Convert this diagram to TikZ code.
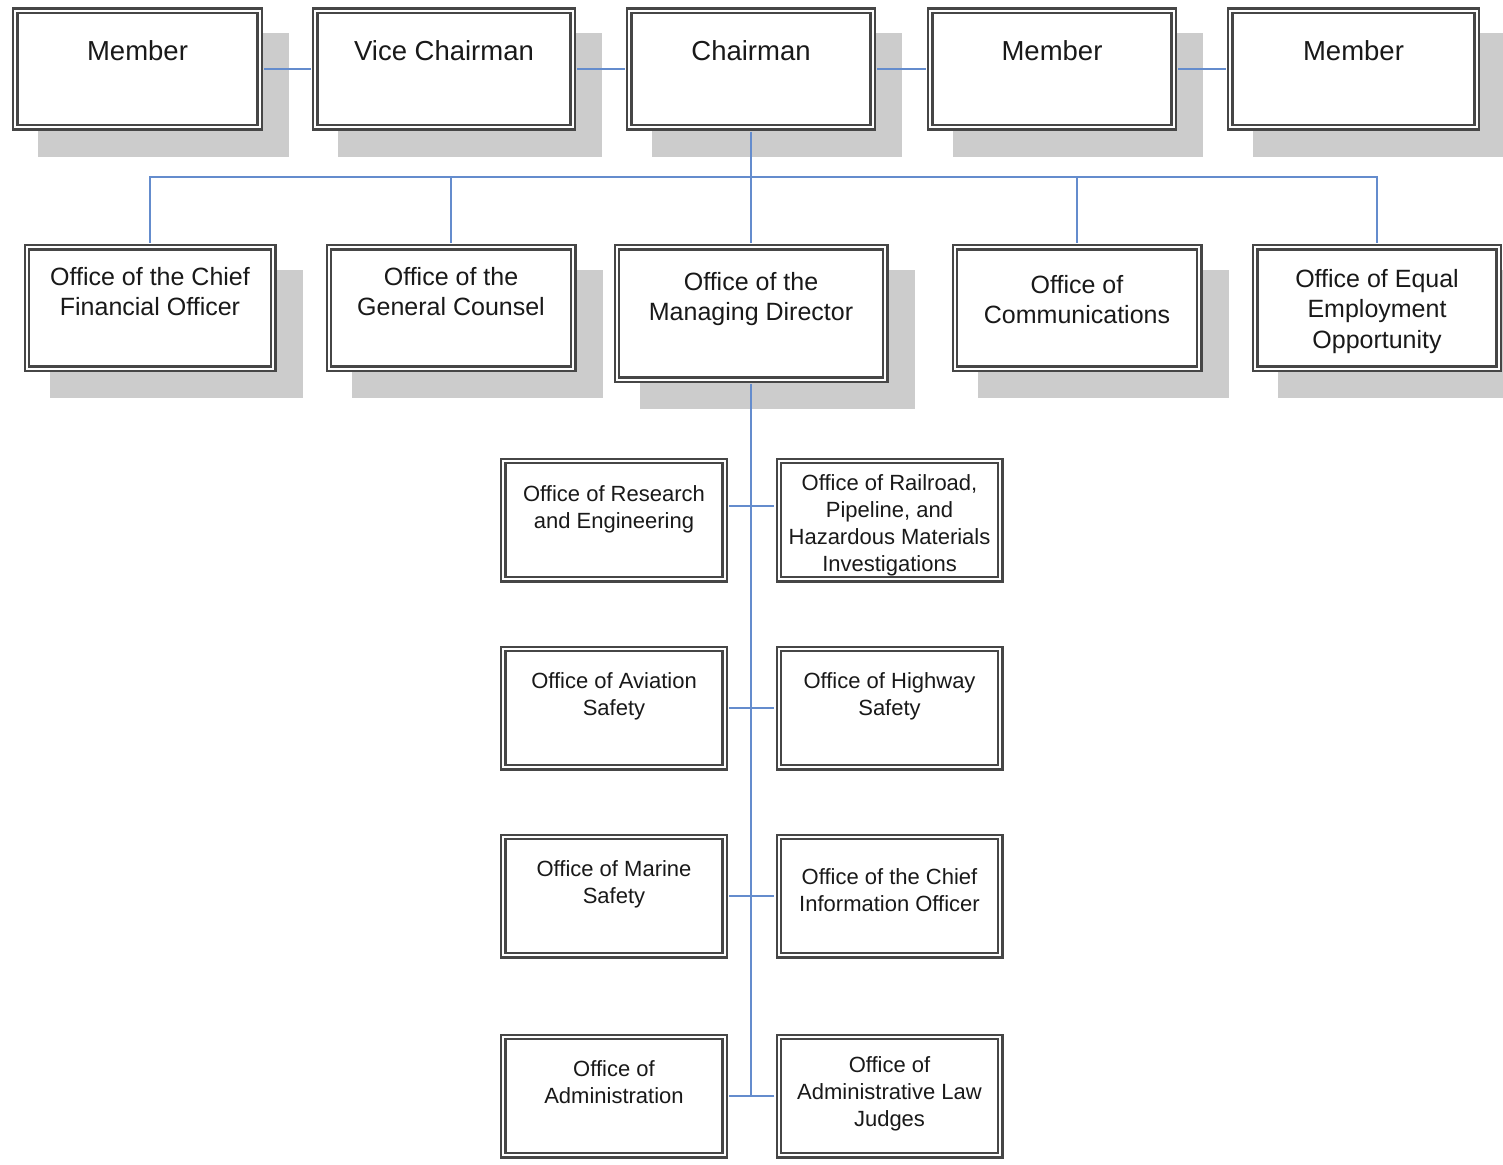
\documentclass[tikz,border=0pt]{standalone}
\usepackage{fontspec}
\setmainfont{Liberation Sans}
\usetikzlibrary{shadows}

\definecolor{linkblue}{RGB}{100,140,205}
\definecolor{boxline}{RGB}{70,70,70}

% text of a box: width, height, baseline of first line from the top, lines
\newcommand{\boxtext}[4]{\parbox[c][#2][t]{#1}{\centering\vspace*{\dimexpr#3-0.7\baselineskip\relax}\strut#4}}

\tikzset{
  unit/.style={draw=boxline, double=white, double distance=2.2pt, line width=2.2pt,
    fill=white, inner sep=0pt, text=black!90},
  shadowed/.style={drop shadow={shadow xshift=26pt, shadow yshift=-26pt,
    fill=black!20, draw=black!20, line width=6.6pt, opacity=1}},
  board/.style={unit, shadowed, font=\fontsize{27.5}{33}\selectfont},
  office/.style={unit, shadowed, font=\fontsize{25}{30.5}\selectfont},
  division/.style={unit, font=\fontsize{22}{27}\selectfont},
  link/.style={draw=linkblue, line width=2pt, shorten <=3.3pt, shorten >=3.3pt}
}

\begin{document}
\begin{tikzpicture}[x=1pt, y=-1pt]
      \useasboundingbox (0,0) rectangle (1503,1164);
      % place nodes
      \node[board] (mem1) at (137.5,69) {\boxtext{244.4pt}{116.4pt}{49.2pt}{Member}};
      \node[board] (vice) at (444,69) {\boxtext{257.4pt}{116.4pt}{49.2pt}{Vice Chairman}};
      \node[board] (chair) at (751,69) {\boxtext{243.4pt}{116.4pt}{49.2pt}{Chairman}};
      \node[board] (mem2) at (1052,69) {\boxtext{243.4pt}{116.4pt}{49.2pt}{Member}};
      \node[board] (mem3) at (1353.5,69) {\boxtext{246.4pt}{116.4pt}{49.2pt}{Member}};

      \node[office] (cfo) at (150,308) {\boxtext{246.4pt}{121.4pt}{37.7pt}{Office of the Chief\\Financial Officer}};
      \node[office] (gc) at (451,308) {\boxtext{244.4pt}{121.4pt}{37.7pt}{Office of the\\General Counsel}};
      \node[office] (md) at (751,313.5) {\boxtext{268.4pt}{132.4pt}{42.7pt}{Office of the\\Managing Director}};
      \node[office] (comm) at (1077,308) {\boxtext{244.4pt}{121.4pt}{45.7pt}{Office of\\Communications}};
      \node[office] (eeo) at (1377,308) {\boxtext{243.4pt}{121.4pt}{39.7pt}{Office of Equal\\Employment\\Opportunity}};

      \node[division] (res) at (614,520) {\boxtext{221.4pt}{118.4pt}{40.2pt}{Office of Research\\and Engineering}};
      \node[division] (rail) at (889.5,520) {\boxtext{221.4pt}{118.4pt}{29.2pt}{Office of Railroad,\\Pipeline, and\\Hazardous Materials\\Investigations}};
      \node[division] (avi) at (614,708) {\boxtext{221.4pt}{118.4pt}{39.7pt}{Office of Aviation\\Safety}};
      \node[division] (hwy) at (889.5,708) {\boxtext{221.4pt}{118.4pt}{39.7pt}{Office of Highway\\Safety}};
      \node[division] (mar) at (614,896) {\boxtext{221.4pt}{118.4pt}{39.7pt}{Office of Marine\\Safety}};
      \node[division] (cio) at (889.5,896) {\boxtext{221.4pt}{118.4pt}{47.7pt}{Office of the Chief\\Information Officer}};
      \node[division] (adm) at (614,1096) {\boxtext{221.4pt}{118.4pt}{39.7pt}{Office of\\Administration}};
      \node[division] (alj) at (889.5,1096) {\boxtext{221.4pt}{118.4pt}{35.7pt}{Office of\\Administrative Law\\Judges}};

      \coordinate (bus) at (751,177);
      % draw edges
      \draw[link] (mem1.east) -- (vice.west);
      \draw[link] (vice.east) -- (chair.west);
      \draw[link] (chair.east) -- (mem2.west);
      \draw[link] (mem2.east) -- (mem3.west);

      \draw[link] (chair.south) -- (md.north);
      \draw[link] (cfo.north) |- (bus) -| (eeo.north);
      \draw[link] (gc.north) |- (bus);
      \draw[link] (comm.north) |- (bus);

      \draw[link] (adm.east) -| (md.south);
      \draw[link] (alj.west) -| (md.south);
      \draw[link] (res.7) -- (rail.173);
      \draw[link] (avi.east) -- (hwy.west);
      \draw[link] (mar.east) -- (cio.west);
\end{tikzpicture}
\end{document}
